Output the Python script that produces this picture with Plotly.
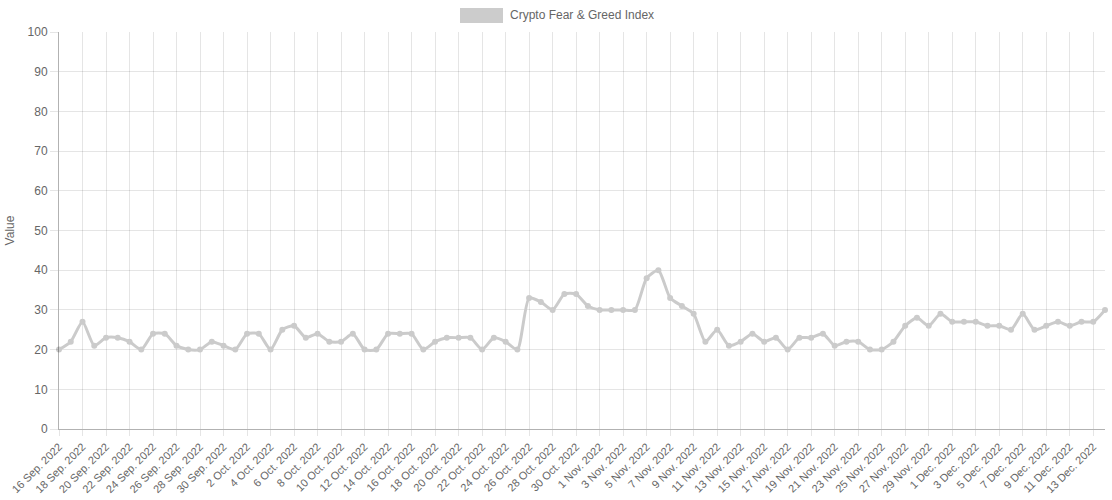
import plotly.graph_objects as go
import pandas as pd

dates = pd.date_range("2022-09-16", "2022-12-14", freq="D")
categories = [f"{d.day} {d.strftime('%b')}. {d.year}" for d in dates]

values = [
    20, 22, 27, 21, 23, 23, 22, 20, 24, 24,
    21, 20, 20, 22, 21, 20, 24, 24, 20, 25,
    26, 23, 24, 22, 22, 24, 20, 20, 24, 24,
    24, 20, 22, 23, 23, 23, 20, 23, 22, 20,
    33, 32, 30, 34, 34, 31, 30, 30, 30, 30,
    38, 40, 33, 31, 29, 22, 25, 21, 22, 24,
    22, 23, 20, 23, 23, 24, 21, 22, 22, 20,
    20, 22, 26, 28, 26, 29, 27, 27, 27, 26,
    26, 25, 29, 25, 26, 27, 26, 27, 27, 30,
]

tick_labels = categories[::2]
series_name = "Crypto Fear & Greed Index"

LINE = "#cbcbcb"
FONT = "Liberation Sans, Arial, Helvetica, sans-serif"
GRID = "rgba(0,0,0,0.1)"

L, R, T, B = 59, 7, 32, 71
PW, PH = 1112 - L - R, 500 - T - B

fig = go.Figure()
fig.add_trace(go.Scatter(
    x=categories, y=values, name=series_name, mode="lines+markers",
    line=dict(color=LINE, width=3, shape="spline", smoothing=0.6),
    marker=dict(color=LINE, size=6),
    showlegend=False, cliponaxis=False,
))

fig.update_layout(
    width=1112, height=500,
    margin=dict(l=L, r=R, t=T, b=B, autoexpand=False),
    paper_bgcolor="white", plot_bgcolor="white",
    font=dict(family=FONT, size=12, color="#666"),
    xaxis=dict(
        type="category", tickmode="array", tickvals=tick_labels, ticktext=tick_labels,
        tickangle=-45, showgrid=True, gridcolor=GRID, gridwidth=1,
        showline=True, linecolor="rgba(0,0,0,0.3)", linewidth=1,
        ticks="outside", ticklen=6, tickcolor=GRID,
        range=[0, len(categories) - 1], zeroline=False, automargin=False,
        tickfont=dict(size=11, color="#666"),
    ),
    yaxis=dict(
        range=[0, 100], tickmode="linear", tick0=0, dtick=10,
        showgrid=True, gridcolor=GRID, gridwidth=1,
        showline=True, linecolor="rgba(0,0,0,0.3)", linewidth=1,
        ticks="outside", ticklen=8, tickcolor=GRID, zeroline=False, automargin=False,
        title=dict(text="Value", font=dict(size=12, color="#666"), standoff=10),
        tickfont=dict(size=12, color="#666"),
    ),
    shapes=[dict(
        type="rect", xref="paper", yref="paper",
        x0=(460 - L) / PW, x1=(503 - L) / PW,
        y0=1 + (T - 23) / PH, y1=1 + (T - 8) / PH,
        fillcolor="#cccccc", line=dict(width=0),
    )],
    annotations=[dict(
        text=series_name, xref="paper", yref="paper",
        x=(508 - L) / PW, y=1 + (T - 15.5) / PH,
        xanchor="left", yanchor="middle", showarrow=False,
        font=dict(size=12, color="#666", family=FONT),
    )],
)

fig.write_html(
    "out.html",
    config={"displayModeBar": False},
    post_script="document.body.style.margin='0';document.body.style.overflow='hidden';",
)
